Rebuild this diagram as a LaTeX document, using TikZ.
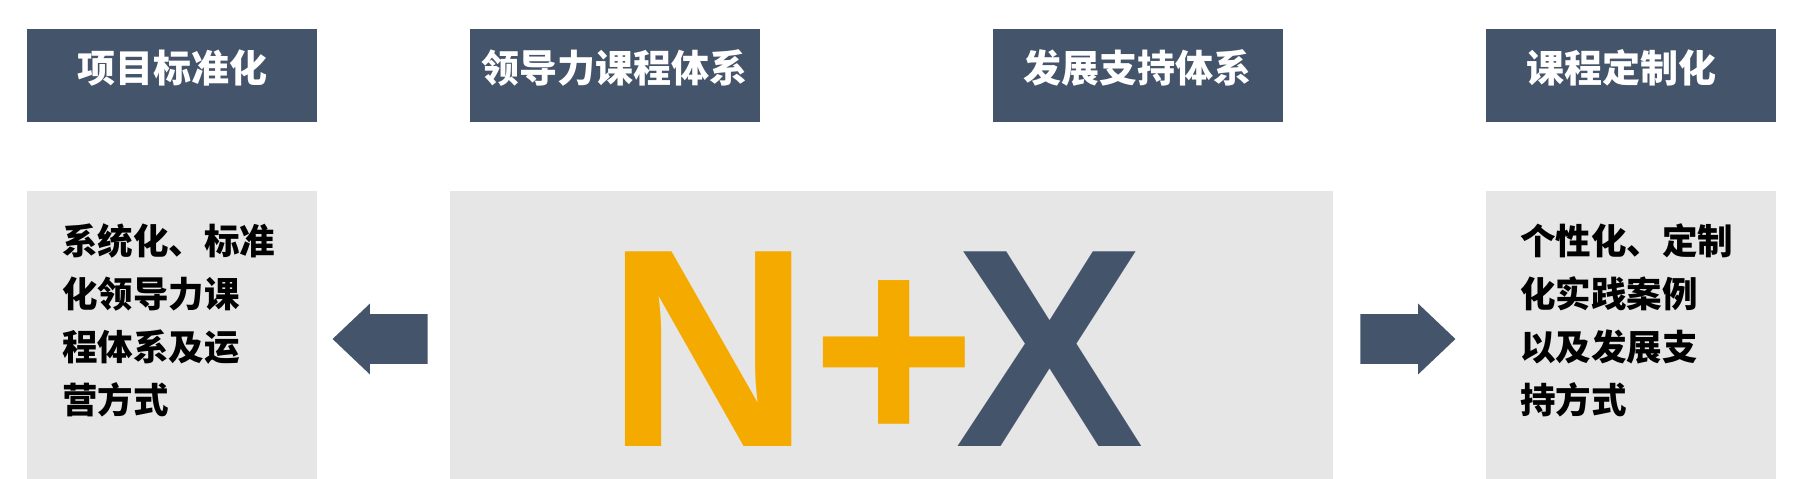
\documentclass[tikz,border=0pt]{standalone}
\usepackage{fontspec}
\newfontfamily\cjk{Noto Sans CJK SC}
\newfontfamily\nxfont{Liberation Sans}
\usetikzlibrary{shapes, shapes.arrows, positioning}
\definecolor{slate}{HTML}{44546A}
\definecolor{panel}{HTML}{E7E6E6}
\definecolor{nxorange}{HTML}{F5AA00}

\begin{document}
\begin{tikzpicture}[x=1pt, y=1pt, inner sep=0pt, node distance=76pt,
  headbox/.style={fill=slate, minimum width=145pt, minimum height=46.5pt},
  headtext/.style={text=white, font=\cjk\bfseries\fontsize{19pt}{19pt}\selectfont, anchor=base},
  panelbox/.style={fill=panel, minimum width=145pt, minimum height=144pt},
  bodytext/.style={text=black, text width=125pt, align=left, font=\cjk\bfseries\fontsize{17.75pt}{26.4pt}\selectfont, anchor=base west},
  blockarrow/.style={single arrow, fill=slate, minimum height=47.5pt, inner ysep=12.25pt, inner xsep=0pt, single arrow head extend=5.25pt, single arrow tip angle=87, anchor=tip}]
\useasboundingbox (0,0) rectangle (900,239);

% top headers
\node[headbox] (h1) at (86,201.25) {};
\node[headbox, right=of h1] (h2) {};
\node[headbox, right=116pt of h2] (h3) {};
\node[headbox, right=101.5pt of h3] (h4) {};

\node[headtext] (l1) at ([yshift=-3.5pt]h1.center) {项目标准化};
\node[headtext] (l2) at ([yshift=-3.5pt]h2.center) {领导力课程体系};
\node[headtext] (l3) at ([yshift=-3.5pt]h3.center) {发展支持体系};
\node[headtext] (l4) at ([xshift=-5pt, yshift=-3.5pt]h4.center) {课程定制化};

% panels
\node[panelbox, below=34pt of h1] (p1) {};
\node[panelbox, minimum width=441.5pt, right=66pt of p1] (pc) {};
\node[panelbox, below=34pt of h4] (p2) {};

\node[bodytext] (t1) at (31,111.6) {系统化、标准\\化领导力课\\程体系及运\\营方式};
\node[bodytext] (t2) at (760,111.6) {个性化、定制\\化实践案例\\以及发展支\\持方式};

\node[font=\nxfont\bfseries\fontsize{141.5pt}{141.5pt}\selectfont, anchor=base west] (nx) at (303.15,16) {\textcolor{nxorange}{N+}\kern-10.2pt\textcolor{slate}{X}};

% arrows
\node[blockarrow, shape border rotate=180] (al) at (166,69.5) {};
\node[blockarrow] (ar) at (728,69.5) {};
\end{tikzpicture}
\end{document}
